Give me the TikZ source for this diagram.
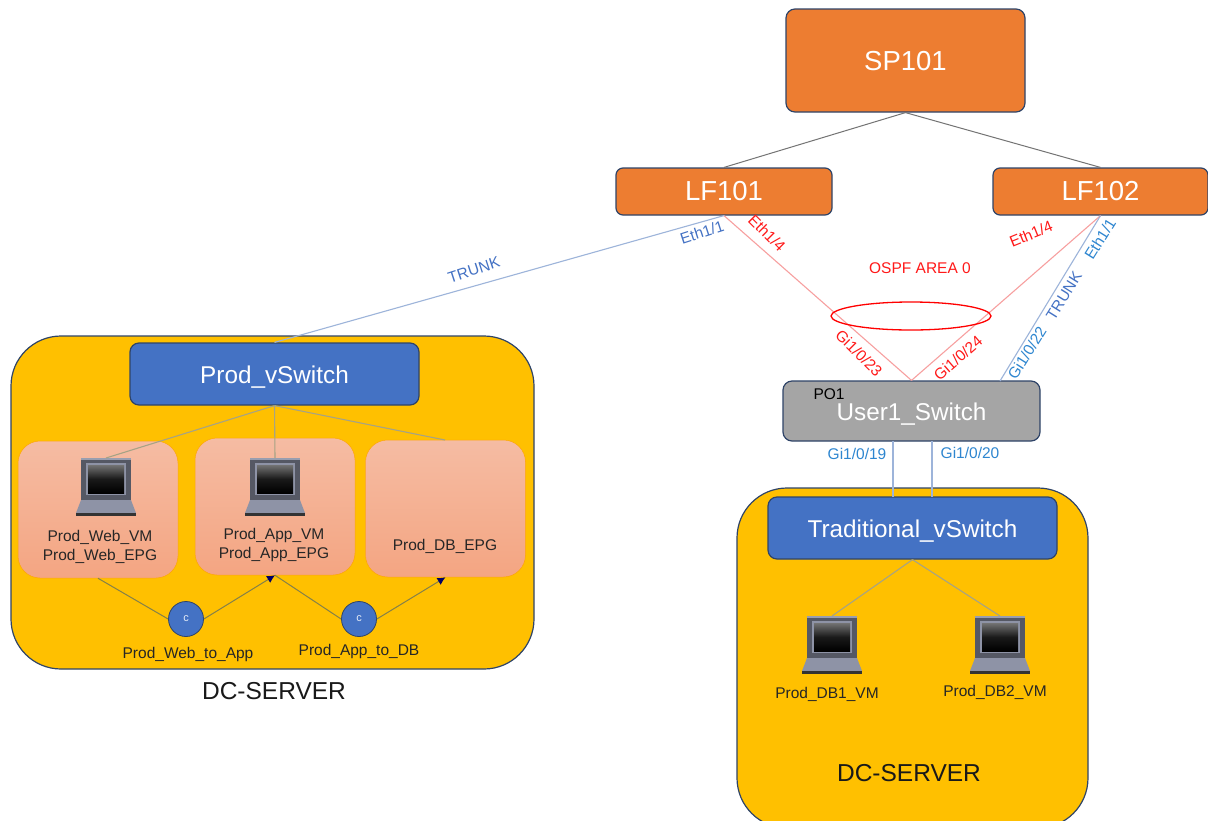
\documentclass[tikz,border=0pt]{standalone}
\usepackage{fontspec}
\setmainfont{Liberation Sans}
\usetikzlibrary{arrows.meta,shapes.geometric}
\definecolor{borderblue}{HTML}{2F4468}
\definecolor{orangebox}{HTML}{ED7D31}
\definecolor{bluebox}{HTML}{4472C4}
\definecolor{yellowbox}{HTML}{FFC000}
\definecolor{graybox}{HTML}{A5A5A5}
\definecolor{linkblue}{HTML}{9DB4DA}
\definecolor{linkred}{HTML}{F7A0A0}
\definecolor{labelblue}{HTML}{2E86D0}
\definecolor{trunkblue}{HTML}{4472C4}
\definecolor{vmgray}{HTML}{8E93A6}
\definecolor{epgtop}{HTML}{F5BCA3}
\definecolor{epgbot}{HTML}{F4A582}
\tikzset{
  x=1pt,y=-1pt,
  boxbase/.style={draw=borderblue,line width=1.2pt,rounded corners=#1,inner sep=0pt},
  orangenode/.style={boxbase=9pt,fill=orangebox,text=white,font=\fontsize{27.5}{32}\selectfont},
  bluenode/.style={boxbase=9pt,fill=bluebox,text=white,font=\fontsize{24.3}{28}\selectfont},
  graynode/.style={boxbase=9pt,fill=graybox,text=white,font=\fontsize{24.3}{28}\selectfont},
  yellownode/.style={boxbase=50pt,fill=yellowbox},
  epgnode/.style={draw=orange!70!yellow,line width=.5pt,rounded corners=22pt,top color=epgtop,bottom color=epgbot,inner sep=0pt},
  bluelink/.style={draw=linkblue,line width=1.1pt},
  redlink/.style={draw=linkred,line width=1.1pt},
  darklink/.style={draw=black!55,line width=1pt},
  greylink/.style={draw=gray!80!yellow,line width=1.1pt},
  contractlink/.style={draw=black!55!yellow,line width=1pt},
  contractarrow/.style={contractlink,-{Latex[length=8pt,width=8pt,color=blue!40!black]}},
  contract/.style={circle,draw=borderblue,line width=.8pt,fill=bluebox,text=white!85!bluebox,minimum size=35pt,inner sep=0pt,font=\fontsize{11}{12}\selectfont},
  small/.style={font=\fontsize{15.5}{19.5}\selectfont,align=center,text=black!85},
  redlabel/.style={font=\fontsize{15.5}{17}\selectfont,text=red!90!white},
  bluelabel/.style={font=\fontsize{15.5}{17}\selectfont,text=labelblue},
  trunklabel/.style={font=\fontsize{15.5}{17}\selectfont,text=trunkblue},
  pics/laptop/.style={code={
    \fill[vmgray!60!black] (-25,-27) rectangle (25,13);
    \fill[vmgray!90!white] (-25,-29) rectangle (25,-27);
    \fill[vmgray] (-20,-24) rectangle (20,8);
    \shade[top color=black!55,bottom color=black,middle color=black!90] (-18,-22) rectangle (18,6);
    \fill[vmgray] (-25,13) -- (25,13) -- (30,26) -- (-30,26) -- cycle;
    \fill[black!80] (-30,26) rectangle (30,29);
  }}
}
\begin{document}
\begin{tikzpicture}
\useasboundingbox (0,0) rectangle (1208,820);
\fill[white] (0,0) rectangle (1208,820);
% containers
\node[yellownode,minimum width=523pt,minimum height=333pt] (leftdc) at (272.5,502.5) {};
\begin{scope}
\clip (0,0) rectangle (1208,820);
\node[yellownode,minimum width=351pt,minimum height=340pt] (rightdc) at (912.5,658) {};
\end{scope}
% boxes
\node[orangenode,minimum width=239pt,minimum height=103pt,text depth=0pt] (sp) at (905.5,60.5) {SP101};
\node[orangenode,minimum width=216pt,minimum height=47pt,rounded corners=7pt] (lf1) at (724,191.5) {LF101};
\node[orangenode,minimum width=215pt,minimum height=47pt,rounded corners=7pt] (lf2) at (1100.5,191.5) {LF102};
\node[bluenode,minimum width=289pt,minimum height=62pt,text height=19pt,text depth=1pt] (pv) at (274.5,374) {Prod\_vSwitch};
\node[graynode,minimum width=257pt,minimum height=60pt,text height=19pt,text depth=1pt] (us) at (911.5,411) {User1\_Switch};
\node[bluenode,minimum width=289pt,minimum height=62pt,text height=19pt,text depth=1pt] (tv) at (912.5,528) {Traditional\_vSwitch};
\node[epgnode,minimum width=160pt,minimum height=137pt] (e1) at (98,509.5) {};
\node[epgnode,minimum width=160pt,minimum height=137pt] (e2) at (275,506.5) {};
\node[epgnode,minimum width=160pt,minimum height=137pt] (e3) at (445.5,508.5) {};
% links
\draw[darklink] (sp.south) -- (lf1.north);
\draw[darklink] (sp.south) -- (lf2.north);
\draw[redlink] (lf1.south) -- (us.north);
\draw[redlink] (lf2.south) -- (us.north);
\coordinate (usb) at (1000,381);
\draw[bluelink] (lf2.south) -- (usb);
\draw[bluelink] (lf1.south) -- (pv.north);
\coordinate (us1) at (893,441);
\coordinate (us2) at (932,441);
\coordinate (tv1) at (893,497);
\coordinate (tv2) at (932,497);
\draw[bluelink] (us1) -- (tv1);
\draw[bluelink] (us2) -- (tv2);
\node[draw=red,line width=1.3pt,ellipse,minimum width=160pt,minimum height=28pt,inner sep=0pt] (po) at (911,316) {};
% laptops
\pic (l1) at (106,487) {laptop};
\pic (l2) at (275,487) {laptop};
\pic (l3) at (832,645) {laptop};
\pic (l4) at (1000,645) {laptop};
\coordinate (l1t) at (106,458);
\coordinate (l2t) at (275,458);
\coordinate (l3t) at (832,616);
\coordinate (l4t) at (1000,616);
\coordinate (e3t) at (445,440);
\draw[greylink] (pv.south) -- (l1t);
\draw[greylink] (pv.south) -- (l2t);
\draw[greylink] (pv.south) -- (e3t);
\draw[greylink] (tv.south) -- (l3t);
\draw[greylink] (tv.south) -- (l4t);
% contracts
\node[contract] (c1) at (186,619) {c};
\node[contract] (c2) at (359,619) {c};
\draw[contractlink] (e1.south) -- (c1.west);
\draw[contractarrow] (c1.east) -- (e2.south);
\draw[contractlink] (e2.south) -- (c2.west);
\draw[contractarrow] (c2.east) -- (e3.south);
% text
\node[small] (t1) at (100,547) {Prod\_Web\_VM\\Prod\_Web\_EPG};
\node[small] (t2) at (274,545) {Prod\_App\_VM\\Prod\_App\_EPG};
\node[small] (t3) at (445,546) {Prod\_DB\_EPG};
\node[small] (t4) at (188,654) {Prod\_Web\_to\_App};
\node[small] (t5) at (359,651) {Prod\_App\_to\_DB};
\node[small] (t6) at (827,694) {Prod\_DB1\_VM};
\node[small] (t7) at (995,692) {Prod\_DB2\_VM};
\node[font=\fontsize{24.5}{28}\selectfont,text=black!90] (d1) at (274,691) {DC-SERVER};
\node[font=\fontsize{24.5}{28}\selectfont,text=black!90] (d2) at (909,773) {DC-SERVER};
\node[small,text=black] (po1) at (829,394) {PO1};
\node[redlabel] (o) at (920,268) {OSPF AREA 0};
\node[redlabel,rotate=-45] (a1) at (767,233) {Eth1/4};
\node[redlabel,rotate=22] (a2) at (1031,234) {Eth1/4};
\node[redlabel,rotate=-45] (a3) at (859,353) {Gi1/0/23};
\node[redlabel,rotate=41] (a4) at (958,358) {Gi1/0/24};
\node[bluelabel,rotate=58] (b1) at (1100,239) {Eth1/1};
\node[bluelabel,rotate=58] (b2) at (1027,353) {Gi1/0/22};
\node[trunklabel,rotate=58] (b3) at (1064,296) {TRUNK};
\node[trunklabel,rotate=18] (b4) at (702,232) {Eth1/1};
\node[trunklabel,rotate=18] (b5) at (474,270) {TRUNK};
\node[bluelabel] (b6) at (857,454) {Gi1/0/19};
\node[bluelabel] (b7) at (970,453) {Gi1/0/20};
\end{tikzpicture}
\end{document}
